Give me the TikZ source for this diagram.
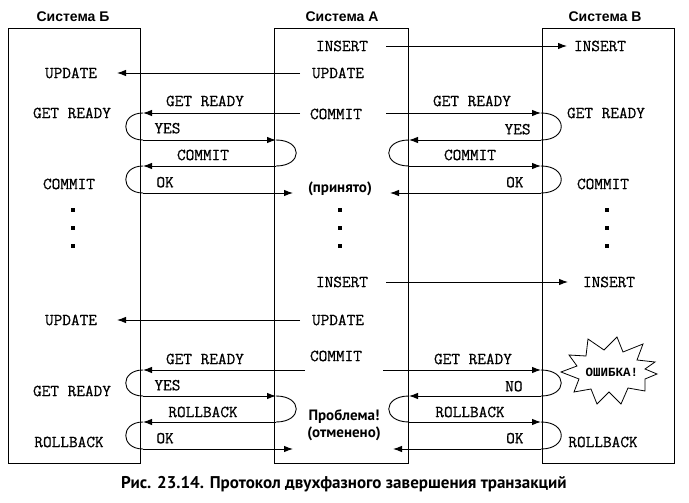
\documentclass[tikz,border=0pt]{standalone}
\usepackage{fontspec}
\setmainfont{PT Sans}
\newfontfamily\codefont{Latin Modern Mono}[FakeBold=0.7]
\newfontfamily\cyrcode{Liberation Mono}
\newfontfamily\headfont{Liberation Sans}
\usetikzlibrary{arrows.meta}
\tikzset{
  tt/.style={font=\codefont\fontsize{16.8}{18}\selectfont,inner sep=0pt},
  hd/.style={font=\headfont\bfseries\fontsize{14}{16}\selectfont,inner sep=0pt},
  note/.style={font=\bfseries\fontsize{15}{17}\selectfont,inner sep=0pt,align=center},
  msg/.style={line width=0.9pt,-{Latex[length=9pt,width=6.5pt]}},
  turn/.style={line width=0.9pt},
  dot/.style={fill,minimum size=4.5pt,inner sep=0pt},
}
\begin{document}
\begin{tikzpicture}[x=1pt,y=-1pt]
\useasboundingbox (0,0) rectangle (689,503);
% the three systems
\draw[line width=1pt] (8,29) rectangle (140,463);
\draw[line width=1pt] (274,29) rectangle (408,463);
\draw[line width=1pt] (542,29) rectangle (674,463);
\node[hd] (sysB) at (73,17) {Система Б};
\node[hd] (sysA) at (342,17) {Система А};
\node[hd] (sysV) at (605,17) {Система В};

% system A
\node[tt] (insA1) at (342,46) {INSERT};
\node[tt] (updA1) at (338,73) {UPDATE};
\node[tt] (comA1) at (336,114) {COMMIT};
\node[note] (ok) at (340,189) {(принято)};
\node[dot] (dA1) at (340,210) {};
\node[dot] (dA2) at (340,228) {};
\node[dot] (dA3) at (340,246) {};
\node[tt] (insA2) at (342,282) {INSERT};
\node[tt] (updA2) at (338,320) {UPDATE};
\node[tt] (comA2) at (336,356) {COMMIT};
\node[note] (fail) at (344,425) {Проблема!\\(отменено)};

% system B
\node[tt] (updB1) at (71,73) {UPDATE};
\node[tt] (rdyB1) at (72,113) {GET READY};
\node[tt] (comB1) at (69,184) {COMMIT};
\node[dot] (dB1) at (73,210) {};
\node[dot] (dB2) at (73,228) {};
\node[dot] (dB3) at (73,246) {};
\node[tt] (updB2) at (71,320) {UPDATE};
\node[tt] (rdyB2) at (72,391) {GET READY};
\node[tt] (rbB) at (69,442) {ROLLBACK};

% system V
\node[tt] (insV1) at (600,46) {INSERT};
\node[tt] (rdyV1) at (606,113) {GET READY};
\node[tt] (comV1) at (603,184) {COMMIT};
\node[dot] (dV1) at (607,210) {};
\node[dot] (dV2) at (607,228) {};
\node[dot] (dV3) at (607,246) {};
\node[tt] (insV2) at (609,282) {INSERT};
\draw[line width=0.8pt,line join=miter] (657,374) -- (645,379) -- (645,391) -- (628,388)
  -- (621,404) -- (609,392) -- (597,404) -- (591,389) -- (574,392) -- (579,379)
  -- (561,372) -- (577,366) -- (569,355) -- (586,356) -- (588,339) -- (604,350)
  -- (617,337) -- (623,352) -- (643,344) -- (637,360) -- (655,362) -- (645,369) -- cycle;
\node[font=\cyrcode\bfseries\fontsize{12.5}{14}\selectfont,inner sep=0pt] (err) at (612,372) {ОШИБКА!};
\node[tt] (rbV) at (603,442) {ROLLBACK};

% insert / update
\draw[msg] (386,46) -- (567,46);
\draw[msg] (300,73) -- (117,73);
\draw[msg] (386,282) -- (568,282);
\draw[msg] (300,320) -- (117,320);

% commit, left side
\draw[msg] (300,113) -- (143,113) node[tt] (m1) at (205,101) {GET READY};
\draw[turn] (143,113) .. controls (120,113) and (120,140) .. (143,140);
\draw[msg] (143,140) -- (276,140) node[tt,anchor=south west] (m2) at (154,134) {YES};
\draw[turn] (276,140) .. controls (303,140) and (303,166) .. (276,166);
\draw[msg] (276,166) -- (143,166) node[tt] (m3) at (203,155) {COMMIT};
\draw[turn] (143,166) .. controls (120,166) and (120,193) .. (143,193);
\draw[msg] (143,193) -- (293,193) node[tt,anchor=south west] (m4) at (156,188) {OK};

% commit, right side
\draw[msg] (386,113) -- (541,113) node[tt] (m5) at (472,101) {GET READY};
\draw[turn] (541,113) .. controls (568,113) and (568,140) .. (541,140);
\draw[msg] (541,140) -- (409,140) node[tt,anchor=south east] (m6) at (531,135) {YES};
\draw[turn] (409,140) .. controls (382,140) and (382,166) .. (409,166);
\draw[msg] (409,166) -- (541,166) node[tt] (m7) at (470,155) {COMMIT};
\draw[turn] (541,166) .. controls (568,166) and (568,193) .. (541,193);
\draw[msg] (541,193) -- (390,193) node[tt,anchor=south east] (m8) at (524,188) {OK};

% rollback, left side
\draw[msg] (305,370) -- (143,370) node[tt] (m9) at (205,359) {GET READY};
\draw[turn] (143,370) .. controls (120,370) and (120,396) .. (143,396);
\draw[msg] (143,396) -- (276,396) node[tt,anchor=south west] (m10) at (154,391) {YES};
\draw[turn] (276,396) .. controls (303,396) and (303,422) .. (276,422);
\draw[msg] (276,422) -- (143,422) node[tt] (m11) at (203,412) {ROLLBACK};
\draw[turn] (143,422) .. controls (120,422) and (120,449) .. (143,449);
\draw[msg] (143,449) -- (293,449) node[tt,anchor=south west] (m12) at (156,444) {OK};

% rollback, right side
\draw[msg] (383,370) -- (541,370) node[tt] (m13) at (473,359) {GET READY};
\draw[turn] (541,370) .. controls (568,370) and (568,396) .. (541,396);
\draw[msg] (541,396) -- (409,396) node[tt,anchor=south east] (m14) at (523,392) {NO};
\draw[turn] (409,396) .. controls (382,396) and (382,422) .. (409,422);
\draw[msg] (409,422) -- (541,422) node[tt] (m15) at (470,412) {ROLLBACK};
\draw[turn] (541,422) .. controls (568,422) and (568,449) .. (541,449);
\draw[msg] (541,449) -- (393,449) node[tt,anchor=south east] (m16) at (524,444) {OK};

\node[font=\bfseries\fontsize{17}{19}\selectfont,inner sep=0pt] (cap) at (344,484)
  {Рис. 23.14. Протокол двухфазного завершения транзакций};
\end{tikzpicture}
\end{document}
